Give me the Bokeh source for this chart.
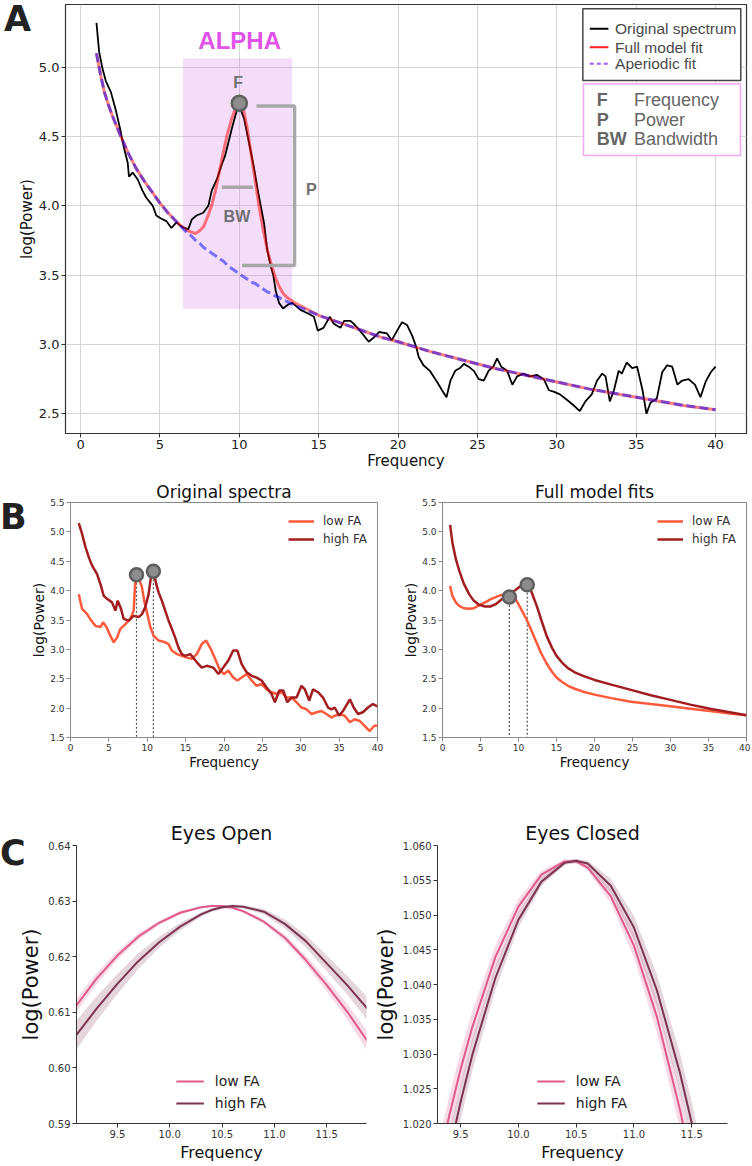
from bokeh.plotting import figure
from bokeh.layouts import column, row
from bokeh.models import Range1d, FixedTicker, PrintfTickFormatter, Label, Legend, Div
from bokeh.embed import file_html
from bokeh.resources import INLINE

FONT = "DejaVu Sans"
AFONT = "Liberation Sans"

# ---------------- Panel A data ----------------
freq_A = [1.0, 1.17, 1.38, 1.59, 1.91, 2.22, 2.5, 2.75, 2.97, 3.05,
          3.28, 3.6, 3.9, 4.13, 4.55, 4.77, 5.04, 5.4, 5.72, 6.04,
          6.36, 6.78, 7.0, 7.3, 7.73, 8.05, 8.26, 8.58, 8.9, 9.1,
          9.32, 9.58, 9.75, 9.96, 10.3, 10.6, 10.9, 11.2, 11.55, 11.76,
          11.97, 12.14, 12.29, 12.5, 12.75, 13.1, 13.35, 13.85, 14.4, 14.7,
          14.94, 15.3, 15.7, 15.95, 16.37, 16.6, 17.0, 17.2, 17.6, 18.15,
          18.47, 18.8, 19.3, 19.6, 19.94, 20.25, 20.57, 20.9, 21.15, 21.3,
          21.6, 22.0, 22.46, 22.77, 23.05, 23.3, 23.6, 23.9, 24.15, 24.45,
          24.77, 25.08, 25.4, 25.7, 26.0, 26.24, 26.5, 26.87, 27.2, 27.5,
          27.9, 28.3, 28.76, 29.18, 29.5, 29.8, 30.2, 30.65, 31.07, 31.45,
          31.8, 32.2, 32.54, 32.86, 33.07, 33.34, 33.6, 33.9, 34.1, 34.4,
          34.75, 35.06, 35.4, 35.65, 35.9, 36.3, 36.64, 36.95, 37.27, 37.6,
          37.9, 38.3, 38.7, 39.05, 39.37, 39.7, 40.0]
pow_A = [5.32, 5.11, 4.99, 4.90, 4.82, 4.69, 4.55, 4.41, 4.31, 4.21,
         4.24, 4.19, 4.11, 4.06, 4.00, 3.93, 3.91, 3.89, 3.84, 3.88,
         3.85, 3.83, 3.90, 3.93, 3.95, 4.00, 4.11, 4.19, 4.30, 4.36,
         4.46, 4.58, 4.65, 4.73, 4.63, 4.46, 4.29, 4.09, 3.88, 3.68,
         3.57, 3.50, 3.39, 3.30, 3.26, 3.29, 3.30, 3.25, 3.22, 3.20,
         3.10, 3.12, 3.20, 3.15, 3.12, 3.17, 3.17, 3.15, 3.10, 3.02,
         3.05, 3.09, 3.08, 3.03, 3.10, 3.16, 3.14, 3.06, 2.98, 2.91,
         2.85, 2.81, 2.73, 2.67, 2.62, 2.74, 2.81, 2.83, 2.86, 2.84,
         2.81, 2.75, 2.74, 2.81, 2.84, 2.90, 2.84, 2.81, 2.71, 2.77,
         2.79, 2.77, 2.78, 2.75, 2.67, 2.66, 2.64, 2.60, 2.56, 2.52,
         2.59, 2.64, 2.74, 2.79, 2.77, 2.59, 2.67, 2.81, 2.79, 2.87,
         2.83, 2.84, 2.67, 2.50, 2.58, 2.61, 2.80, 2.85, 2.84, 2.71,
         2.74, 2.75, 2.71, 2.62, 2.73, 2.80, 2.84]

freq_fit_A = [1, 1.25, 1.5, 1.75, 2, 2.5, 3, 3.5, 4, 4.5, 5, 5.5, 6,
              6.5, 6.75, 7, 7.25, 7.5, 7.75, 8,
              8.25, 8.5, 8.75, 9, 9.25, 9.5, 9.75, 10,
              10.25, 10.5, 10.75, 11, 11.25, 11.5, 11.75, 12,
              12.25, 12.5, 12.75, 13,
              13.5, 14, 15, 16, 17, 18, 19, 20,
              22, 24, 26, 28, 30, 32, 34, 36, 38, 40]
full_fit_A = [5.10, 4.95, 4.82, 4.73, 4.65, 4.51, 4.38, 4.27, 4.18, 4.10, 4.02, 3.95, 3.89,
              3.84, 3.82, 3.81, 3.80, 3.82, 3.85, 3.92,
              4.00, 4.11, 4.25, 4.39, 4.52, 4.62, 4.70, 4.73,
              4.70, 4.56, 4.37, 4.18, 3.99, 3.83, 3.69, 3.58,
              3.49, 3.42, 3.37, 3.34,
              3.30, 3.27, 3.21, 3.17, 3.13, 3.09, 3.05, 3.02,
              2.95, 2.89, 2.83, 2.78, 2.73, 2.68, 2.64, 2.60, 2.56, 2.53]
aperiodic_A = [5.10, 4.95, 4.82, 4.73, 4.65, 4.51, 4.38, 4.27, 4.18, 4.10, 4.02, 3.95, 3.89,
               3.83, 3.80, 3.78, 3.75, 3.73, 3.70, 3.68,
               3.66, 3.64, 3.62, 3.60, 3.57, 3.55, 3.53, 3.51,
               3.49, 3.47, 3.45, 3.44, 3.42, 3.40, 3.38, 3.37,
               3.35, 3.34, 3.32, 3.31,
               3.28, 3.26, 3.21, 3.17, 3.13, 3.09, 3.05, 3.02,
               2.95, 2.89, 2.83, 2.78, 2.73, 2.68, 2.64, 2.60, 2.56, 2.53]
peak_freq_A = [10.0]
peak_pow_A = [4.74]

A_XTICKS = [0, 5, 10, 15, 20, 25, 30, 35, 40]
A_YTICKS = [2.5, 3.0, 3.5, 4.0, 4.5, 5.0]

# ---------------- Panel B data ----------------
freq_hi_B = [1.08, 1.5, 1.95, 2.38, 2.8, 3.46, 3.9, 4.33, 4.76, 5.41,
             5.85, 6.15, 6.58, 6.93, 7.58, 8.23, 8.88, 9.31, 9.74, 10.18,
             10.48, 10.83, 11.17, 11.48, 11.9, 12.34, 12.78, 13.2, 13.64, 14.07,
             14.5, 14.94, 15.6, 16.46, 17.1, 17.76, 18.6, 19.27, 19.9, 20.57,
             21.2, 21.74, 22.3, 22.95, 23.6, 24.25, 24.9, 25.55, 26.2, 26.63,
             27.2, 27.72, 28.24, 28.8, 29.45, 30.1, 30.53, 31.1, 31.6, 32.26,
             32.9, 33.56, 34.0, 34.43, 35.0, 35.5, 36.4, 36.9, 37.46, 38.1,
             38.76, 39.4, 40.0]
pow_hi_B = [5.15, 4.97, 4.74, 4.57, 4.43, 4.28, 4.11, 3.91, 3.86, 3.80,
            3.66, 3.83, 3.69, 3.52, 3.49, 3.57, 3.55, 3.60, 3.72, 3.94,
            4.23, 4.34, 4.11, 3.97, 3.83, 3.66, 3.49, 3.35, 3.20, 3.03,
            2.92, 2.89, 2.92, 2.78, 2.69, 2.72, 2.69, 2.58, 2.69, 2.81,
            2.98, 2.98, 2.75, 2.61, 2.55, 2.52, 2.47, 2.35, 2.24, 2.10,
            2.30, 2.30, 2.10, 2.18, 2.18, 2.38, 2.32, 2.13, 2.32, 2.27,
            2.18, 2.01, 1.98, 2.01, 1.87, 1.95, 2.15, 2.01, 1.90, 1.93,
            2.01, 2.07, 2.03]
freq_lo_B = [1.08, 1.5, 2.17, 2.7, 3.25, 3.9, 4.24, 4.68, 5.2, 5.63,
             6.06, 6.5, 7.15, 7.8, 8.23, 8.45, 8.66, 9.0, 9.31, 9.6,
             9.96, 10.4, 10.83, 11.48, 12.34, 12.78, 13.2, 13.86, 14.5, 15.16,
             15.8, 16.46, 17.1, 17.67, 18.28, 18.84, 19.5, 20.0, 20.57, 21.2,
             21.74, 22.3, 22.95, 23.6, 24.25, 24.9, 25.55, 26.2, 26.85, 27.5,
             28.15, 28.8, 29.45, 30.1, 30.75, 31.4, 32.05, 32.7, 33.35, 34.0,
             34.43, 35.08, 35.73, 36.4, 37.0, 37.7, 38.3, 38.98, 39.6, 40.0]
pow_lo_B = [3.94, 3.69, 3.60, 3.49, 3.40, 3.38, 3.46, 3.38, 3.23, 3.12,
            3.20, 3.35, 3.43, 3.52, 3.66, 4.17, 4.31, 4.17, 4.06, 3.83,
            3.63, 3.38, 3.23, 3.15, 3.12, 3.09, 2.98, 2.92, 2.89, 2.86,
            2.84, 2.92, 3.09, 3.15, 3.01, 2.84, 2.64, 2.58, 2.64, 2.52,
            2.47, 2.52, 2.58, 2.47, 2.38, 2.41, 2.32, 2.27, 2.24, 2.27,
            2.18, 2.18, 2.10, 2.01, 1.98, 1.90, 1.93, 1.95, 1.90, 1.84,
            1.87, 1.90, 1.87, 1.76, 1.81, 1.78, 1.70, 1.61, 1.70, 1.70]
peak_freq_orig_B = [8.6, 10.8]
peak_pow_orig_B = [4.27, 4.33]

freq_fit_B = [1, 1.3, 1.75, 2.2, 2.8, 3.5, 4.1, 4.8, 5.6, 6.3,
              7.0, 7.6, 8.3, 8.9, 9.6, 10.2, 10.9, 11.2, 11.7, 12.4,
              13.0, 13.7, 14.4, 15.0, 15.7, 16.5, 17.4, 18.5, 20, 22.2,
              24.8, 27.4, 30, 32.6, 35.2, 37.8, 40]
fit_hi_B = [5.12, 4.82, 4.54, 4.34, 4.12, 3.94, 3.83, 3.76, 3.73, 3.73,
            3.77, 3.83, 3.90, 3.95, 4.01, 4.07, 4.10, 4.10, 3.98, 3.74,
            3.50, 3.23, 3.03, 2.89, 2.78, 2.68, 2.61, 2.55, 2.48, 2.40,
            2.31, 2.22, 2.14, 2.06, 1.99, 1.93, 1.88]
fit_lo_B = [4.08, 3.91, 3.80, 3.74, 3.70, 3.69, 3.70, 3.75, 3.80, 3.85,
            3.89, 3.92, 3.94, 3.91, 3.86, 3.72, 3.55, 3.47, 3.32, 3.11,
            2.93, 2.76, 2.62, 2.52, 2.45, 2.38, 2.33, 2.28, 2.23, 2.17,
            2.11, 2.07, 2.03, 1.99, 1.95, 1.91, 1.88]
peak_freq_fit_B = [8.8, 11.15]
peak_pow_fit_B = [3.89, 4.10]

B_XTICKS = [0, 5, 10, 15, 20, 25, 30, 35, 40]
B_YTICKS = [1.5, 2.0, 2.5, 3.0, 3.5, 4.0, 4.5, 5.0, 5.5]
B_YMIN = 1.5

# ---------------- Panel C data ----------------
freq_eo = [9.1, 9.3, 9.5, 9.7, 9.9, 10.1, 10.3, 10.4, 10.5, 10.6, 10.7, 10.9, 11.1, 11.3, 11.5, 11.7, 11.9]
eo_low = [0.6110, 0.6160, 0.6202, 0.6236, 0.6261, 0.6279, 0.6289, 0.6291, 0.6291, 0.6288, 0.6282,
          0.6263, 0.6234, 0.6194, 0.6149, 0.6100, 0.6045]
eo_high = [0.6057, 0.6106, 0.6151, 0.6192, 0.6226, 0.6254, 0.6276, 0.6284, 0.6289, 0.6291, 0.6290,
           0.6281, 0.6259, 0.6228, 0.6188, 0.6148, 0.6104]
eo_low_ci = [0.0012, 0.0010, 0.0008, 0.0006, 0.0004, 0.0003, 0.0002, 0.0002, 0.0002, 0.0002, 0.0003,
             0.0004, 0.0006, 0.0008, 0.0011, 0.0014, 0.0018]
eo_high_ci = [0.0026, 0.0022, 0.0018, 0.0014, 0.0010, 0.0007, 0.0004, 0.0003, 0.0003, 0.0003, 0.0003,
              0.0005, 0.0008, 0.0011, 0.0014, 0.0017, 0.0021]

freq_ec = [9.3, 9.4, 9.5, 9.6, 9.8, 10.0, 10.2, 10.4, 10.5, 10.6, 10.8, 11.0, 11.2, 11.4, 11.5, 11.6, 11.8]
ec_low = [1.0136, 1.0210, 1.0278, 1.0338, 1.0439, 1.0512, 1.0558, 1.0577, 1.0577, 1.0568, 1.0527,
          1.0456, 1.0353, 1.0219, 1.0140, 1.0053, 0.9857]
ec_high = [1.0077, 1.0157, 1.0231, 1.0298, 1.0409, 1.0493, 1.0548, 1.0575, 1.0578, 1.0574, 1.0542,
           1.0482, 1.0391, 1.0272, 1.0201, 1.0122, 0.9943]
ec_low_ci = [0.0030, 0.0028, 0.0026, 0.0023, 0.0017, 0.0011, 0.0006, 0.0003, 0.0003, 0.0004, 0.0010,
             0.0017, 0.0023, 0.0028, 0.0030, 0.0032, 0.0035]
ec_high_ci = [0.0030, 0.0028, 0.0026, 0.0023, 0.0017, 0.0011, 0.0006, 0.0003, 0.0003, 0.0004, 0.0010,
              0.0017, 0.0023, 0.0028, 0.0030, 0.0032, 0.0035]

C_XTICKS = [9.5, 10.0, 10.5, 11.0, 11.5]
C1_YTICKS = [0.59, 0.60, 0.61, 0.62, 0.63, 0.64]
C2_YTICKS = [1.020, 1.025, 1.030, 1.035, 1.040, 1.045, 1.050, 1.055, 1.060]

LOW_B, HIGH_B = "#ff5a3c", "#a11d1f"
LOW_C, HIGH_C = "#df5a8b", "#7c3352"

H_A, H_B, H_C = 476, 307, 381


def make_fig(w, h, xr, yr, bl, br, bt, bb, title=None, title_px=15, title_standoff=4):
    p = figure(width=w, height=h, x_range=Range1d(*xr), y_range=Range1d(*yr),
               toolbar_location=None, output_backend="svg",
               min_border_left=bl, min_border_right=br, min_border_top=bt, min_border_bottom=bb,
               background_fill_color="white", border_fill_color="white", title=title)
    if title:
        p.title.text_font = FONT
        p.title.text_font_style = "normal"
        p.title.text_font_size = f"{title_px}px"
        p.title.text_color = "#111111"
        p.title.align = "center"
        p.title.standoff = title_standoff
    return p


def style(p, xticks, yticks, xfmt, yfmt, tick_px, xlab_px, ylab_px, tick_color, line_color,
          lab_standoff=3, tick_standoff=3):
    p.xaxis.axis_label = "Frequency"
    p.yaxis.axis_label = "log(Power)"
    p.xaxis.ticker = FixedTicker(ticks=xticks)
    p.yaxis.ticker = FixedTicker(ticks=yticks)
    p.xaxis.formatter = PrintfTickFormatter(format=xfmt)
    p.yaxis.formatter = PrintfTickFormatter(format=yfmt)
    for ax, lp in ((p.xaxis[0], xlab_px), (p.yaxis[0], ylab_px)):
        ax.axis_label_text_font = FONT
        ax.axis_label_text_font_style = "normal"
        ax.axis_label_text_font_size = f"{lp}px"
        ax.axis_label_text_color = "#111111"
        ax.major_label_text_font = FONT
        ax.major_label_text_font_size = f"{tick_px}px"
        ax.major_label_text_color = tick_color
        ax.minor_tick_line_color = None
        ax.major_tick_in = 0
        ax.major_tick_out = 4
        ax.major_tick_line_color = line_color
        ax.major_label_standoff = tick_standoff
        ax.axis_label_standoff = lab_standoff
        ax.axis_line_color = line_color


def letter_div(t, top_in_block, left, block_h):
    # panel letter overlaid on the block just above it (zero net height in the column)
    h = 38
    return Div(text=t, width=40, height=h,
               margin=(top_in_block - block_h, 0, block_h - top_in_block - h, left),
               styles={"font-family": FONT, "font-weight": "bold", "font-size": "35px",
                       "line-height": "35px", "color": "#222222"})


# ================= Panel A =================
pA = make_fig(750, H_A, (-0.95, 41.95), (2.358, 5.452), 65, 4, 4, 43)
style(pA, A_XTICKS, A_YTICKS, "%d", "%.1f", 13, 15, 15, "#222222", "#333333",
      lab_standoff=0, tick_standoff=2)
pA.outline_line_color = "#333333"
pA.outline_line_width = 1.2
pA.xgrid.grid_line_color = "#d6d6d6"
pA.ygrid.grid_line_color = "#d6d6d6"

# alpha band
pA.quad(left=[6.45], right=[13.33], bottom=[3.257], top=[5.065],
        fill_color="#cc66dd", fill_alpha=0.22, line_color=None)
pA.line(freq_A, pow_A, line_color="black", line_width=1.8)
pA.line(freq_fit_A, full_fit_A, line_color="red", line_alpha=0.5, line_width=3)
pA.line(freq_fit_A, aperiodic_A, line_color="blue", line_alpha=0.5, line_width=3, line_dash="9 4")

# schematic annotations
pA.line([11.08, 13.48, 13.48, 10.17], [4.72, 4.72, 3.57, 3.57], line_color="#a8a8a8", line_width=3.5)
pA.line([8.9, 10.87], [4.134, 4.134], line_color="#a8a8a8", line_width=3.5)
pA.scatter(peak_freq_A, peak_pow_A, size=15, fill_color="#8c8c8c", line_color="#5e5e5e", line_width=2.5)

for (x, y, t, sz, col) in [(10.02, 5.19, "ALPHA", 24, "#e052e8"), (9.92, 4.89, "F", 16, "#707070"),
                           (14.53, 4.12, "P", 16, "#707070"), (9.85, 3.92, "BW", 16, "#707070")]:
    pA.add_layout(Label(x=x, y=y, text=t, text_font=AFONT, text_font_style="bold",
                        text_font_size=f"{sz}px", text_color=col,
                        text_align="center", text_baseline="middle"))

# legend box 1
pA.quad(left=[31.64], right=[41.59], bottom=[4.904], top=[5.421],
        fill_color="white", line_color="#444444", line_width=1.5)
pA.segment(x0=[32.08], y0=[5.277], x1=[33.25], y1=[5.277], line_color="black", line_width=2)
pA.segment(x0=[32.08], y0=[5.144], x1=[33.25], y1=[5.144], line_color="red", line_alpha=0.9, line_width=2)
pA.segment(x0=[32.08], y0=[5.025], x1=[33.25], y1=[5.025], line_color="#9b5cff", line_width=2, line_dash="4 3")
for (y, t) in [(5.277, "Original spectrum"), (5.144, "Full model fit"), (5.025, "Aperiodic fit")]:
    pA.add_layout(Label(x=33.67, y=y, text=t, text_font=AFONT, text_font_size="15.5px",
                        text_color="#4a4a4a", text_align="left", text_baseline="middle"))
# legend box 2
pA.quad(left=[31.68], right=[41.57], bottom=[4.363], top=[4.880],
        fill_color="white", line_color="#f7a6f4", line_width=1.5)
for (y, a, b) in [(4.76, "F", "Frequency"), (4.62, "P", "Power"), (4.483, "BW", "Bandwidth")]:
    pA.add_layout(Label(x=32.52, y=y, text=a, text_font=AFONT, text_font_style="bold",
                        text_font_size="18px", text_color="#666666",
                        text_align="left", text_baseline="middle"))
    pA.add_layout(Label(x=34.86, y=y, text=b, text_font=AFONT,
                        text_font_size="18px", text_color="#666666",
                        text_align="left", text_baseline="middle"))

# ================= Panel B =================
def style_B(p):
    style(p, B_XTICKS, B_YTICKS, "%d", "%.1f", 9, 13.5, 14, "#333333", "#8a8a8a",
          lab_standoff=0, tick_standoff=2)
    p.outline_line_color = "#8a8a8a"
    p.outline_line_width = 1
    p.grid.visible = False


def legend_B(p, r_lo, r_hi):
    lg = Legend(items=[("low FA", [r_lo]), ("high FA", [r_hi])], location="top_right",
                label_text_font=FONT, label_text_font_size="12px", label_text_color="#333333",
                glyph_width=26, glyph_height=18, label_height=18, label_standoff=9,
                spacing=0, padding=4, margin=6, border_line_alpha=0, background_fill_alpha=0)
    p.add_layout(lg)


pB1 = make_fig(400, H_B, (0, 40), (1.5, 5.5), 70, 23, 26, 46, title="Original spectra",
               title_px=17, title_standoff=2)
style_B(pB1)
pB1.segment(x0=peak_freq_orig_B, y0=peak_pow_orig_B, x1=peak_freq_orig_B, y1=[B_YMIN] * 2,
            line_color="#555555", line_width=1.2, line_dash="2 2")
rlo = pB1.line(freq_lo_B, pow_lo_B, line_color=LOW_B, line_width=2.5)
rhi = pB1.line(freq_hi_B, pow_hi_B, line_color=HIGH_B, line_width=2.5)
pB1.scatter(peak_freq_orig_B, peak_pow_orig_B, size=13, fill_color="#8c8c8c", line_color="#5e5e5e", line_width=2.5)
legend_B(pB1, rlo, rhi)

pB2 = make_fig(350, H_B, (0, 40), (1.5, 5.5), 39, 4, 26, 46, title="Full model fits",
               title_px=17, title_standoff=2)
style_B(pB2)
pB2.segment(x0=peak_freq_fit_B, y0=peak_pow_fit_B, x1=peak_freq_fit_B, y1=[B_YMIN] * 2,
            line_color="#555555", line_width=1.2, line_dash="2 2")
rlo2 = pB2.line(freq_fit_B, fit_lo_B, line_color=LOW_B, line_width=2.5)
rhi2 = pB2.line(freq_fit_B, fit_hi_B, line_color=HIGH_B, line_width=2.5)
pB2.scatter(peak_freq_fit_B, peak_pow_fit_B, size=13, fill_color="#8c8c8c", line_color="#5e5e5e", line_width=2.5)
legend_B(pB2, rlo2, rhi2)

# ================= Panel C =================
def panel_C(w, xr, yr, bl, br, title, yticks, yfmt, freq, low, high, low_ci, high_ci):
    p = make_fig(w, H_C, xr, yr, bl, br, 62, 39, title=title, title_px=19)
    style(p, C_XTICKS, yticks, "%.1f", yfmt, 10, 16, 21, "#333333", "#333333",
          lab_standoff=2, tick_standoff=2)
    p.outline_line_color = None
    p.grid.visible = False
    lo_lower = [v - c for v, c in zip(low, low_ci)]
    lo_upper = [v + c for v, c in zip(low, low_ci)]
    hi_lower = [v - c for v, c in zip(high, high_ci)]
    hi_upper = [v + c for v, c in zip(high, high_ci)]
    p.varea(x=freq, y1=lo_lower, y2=lo_upper, fill_color=LOW_C, fill_alpha=0.22)
    p.varea(x=freq, y1=hi_lower, y2=hi_upper, fill_color=HIGH_C, fill_alpha=0.2)
    r1 = p.line(freq, low, line_color=LOW_C, line_width=2)
    r2 = p.line(freq, high, line_color=HIGH_C, line_width=2)
    lg = Legend(items=[("low FA", [r1]), ("high FA", [r2])], location="bottom_center",
                label_text_font=FONT, label_text_font_size="14px", label_text_color="#222222",
                glyph_width=28, glyph_height=22, label_height=22, label_standoff=11,
                spacing=0, padding=4, margin=5, border_line_alpha=0, background_fill_alpha=0)
    p.add_layout(lg)
    return p


pC1 = panel_C(368, (9.11, 11.88), (0.59, 0.64), 76, 2, "Eyes Open", C1_YTICKS, "%.2f",
              freq_eo, eo_low, eo_high, eo_low_ci, eo_high_ci)
pC2 = panel_C(382, (9.30, 11.81), (1.020, 1.060), 69, 23, "Eyes Closed", C2_YTICKS, "%.3f",
              freq_ec, ec_low, ec_high, ec_low_ci, ec_high_ci)

layout = column(pA, letter_div("A", 2, 4, H_A),
                row(pB1, pB2), letter_div("B", 24, 0, H_B),
                row(pC1, pC2), letter_div("C", 53, 0, H_C))
open("out.html", "w").write(file_html(layout, INLINE, title="FOOOF figure"))
